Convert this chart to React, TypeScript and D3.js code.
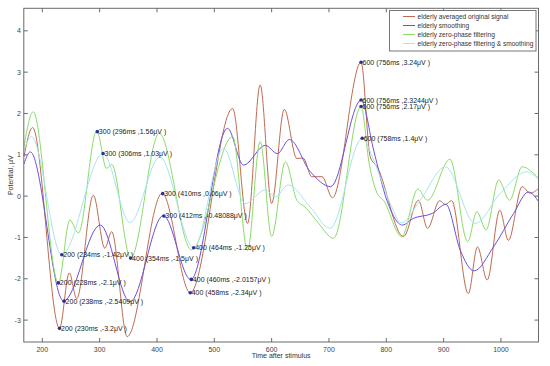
import React from "react";
import * as d3 from "d3";

const seriesNames = [
  "elderly averaged original signal",
  "elderly smoothing",
  "elderly zero-phase filtering",
  "elderly zero-phase filtering & smoothing",
];
const seriesColors = ["#bf6a52", "#6b50da", "#88dc66", "#a9e2f2"];

const originalSignal: [number, number][] = [
  [168, 0.95], [183, 1.66], [230, -3.2], [247, -1.86], [260, -2.48], [289, 0.02], [309, -1.26],
  [321, -0.86], [348, -3.4], [409, 0.07], [458, -2.34], [532, 2.12], [558, -0.66], [580, 2.69],
  [600, -0.18], [622, 2.1], [644, 0.91], [655, 0.92], [670, 0.47], [688, 0.47], [706, -0.04],
  [756, 3.24], [772, 0.95], [784, 0.71], [830, -0.98], [856, -0.1], [872, -0.78], [893, -0.11],
  [903, -0.2], [914, -0.11], [943, -2.36], [959, -1.23], [976, -2.03], [998, -0.34], [1013, -1.07],
  [1037, 0.23], [1051, 0.07], [1066, 0.19],
];
const smoothing: [number, number][] = [
  [168, 0.78], [179, 1.07], [237, -2.54], [301, -0.7], [353, -2.56], [411, -0.47], [459, -2.02],
  [523, 1.64], [551, 0.75], [589, 1.23], [610, 1.03], [631, 1.37], [667, 0.6], [703, 0.23],
  [756, 2.32], [778, 1.11], [801, -0.1], [828, -0.7], [847, -0.54], [880, -0.42], [904, -0.2],
  [929, -1.31], [953, -1.81], [987, -1.23], [1022, -0.42], [1048, 0.1], [1066, -0.14],
];
const zeroPhase: [number, number][] = [
  [168, 1.2], [184, 2.04], [228, -2.1], [248, -0.58], [263, -0.89], [295, 1.58], [312, 0.67],
  [321, 0.77], [354, -1.5], [404, 1.52], [460, -1.3], [532, 1.44], [558, -1.31], [580, 1.32],
  [600, -0.98], [624, 0.83], [644, -0.1], [658, -0.26], [682, -0.66], [708, -1.02], [756, 2.17],
  [770, 0.8], [784, 0.07], [795, -0.1], [827, -0.98], [855, 0.17], [872, -0.1], [911, 0.89],
  [942, -1.1], [958, -0.38], [974, -0.82], [996, 0.39], [1015, -0.1], [1037, 0.71], [1057, 0.55],
  [1066, 0.43],
];
const zeroPhaseSmoothing: [number, number][] = [
  [168, 1.11], [181, 1.44], [234, -1.42], [306, 1.03], [353, -0.64], [405, 0.95], [464, -1.25],
  [516, 1.15], [554, -0.18], [589, 0.15], [606, -0.02], [629, 0.27], [667, -0.26], [702, -0.78],
  [758, 1.4], [778, 0.87], [807, -0.18], [826, -0.65], [859, -0.1], [903, 0.71], [955, -0.66],
  [999, 0.07], [1045, 0.59], [1066, 0.39],
];
const allSeries = [originalSignal, smoothing, zeroPhase, zeroPhaseSmoothing];

// [label, time ms, value, value text]
const annotations: [string, number, number, string][] = [
  ["200", 230, -3.2, "-3.2"],
  ["200", 238, -2.5409, "-2.5409"],
  ["200", 228, -2.1, "-2.1"],
  ["200", 234, -1.42, "-1.42"],
  ["300", 296, 1.56, "1.56"],
  ["300", 306, 1.03, "1.03"],
  ["300", 410, 0.06, "0.06"],
  ["300", 412, -0.48088, "-0.48088"],
  ["400", 354, -1.5, "-1.5"],
  ["400", 464, -1.25, "-1.25"],
  ["400", 460, -2.0157, "-2.0157"],
  ["400", 458, -2.34, "-2.34"],
  ["600", 756, 3.24, "3.24"],
  ["600", 756, 2.3244, "2.3244"],
  ["600", 756, 2.17, "2.17"],
  ["600", 758, 1.4, "1.4"],
];

const xTicks = [200, 300, 400, 500, 600, 700, 800, 900, 1000];
const yTicks = [-3, -2, -1, 0, 1, 2, 3, 4];

const W = 550, H = 366;
const L = 23.8, R = 538.5, T = 8.3, B = 342;
const font = "'Liberation Sans', Arial, sans-serif";
const axisColor = "#6a6a6a";

export default function App() {
  const x = d3.scaleLinear().domain([167.7, 1065.5]).range([L, R]);
  const y = d3.scaleLinear().domain([-3.53, 4.545]).range([B, T]);
  const line = d3
    .line<[number, number]>()
    .x((d) => x(d[0]))
    .y((d) => y(d[1]))
    .curve(d3.curveMonotoneX);

  return (
    <svg
      width={W}
      height={H}
      style={{ position: "absolute", left: 0, top: 0, background: "#fff" }}
      fontFamily={font}
    >
      <defs>
        <clipPath id="plot">
          <rect x={L} y={T} width={R - L} height={B - T} />
        </clipPath>
      </defs>
      <rect x={0} y={0} width={W} height={H} fill="#fff" />
      <g clipPath="url(#plot)">
        {allSeries.map((s, i) => (
          <path key={i} d={line(s) || ""} fill="none" stroke={seriesColors[i]} strokeWidth={1} />
        ))}
      </g>
      {/* annotations */}
      {annotations.map(([lab, t, v, vt], i) => (
        <g key={i}>
          <circle cx={x(t)} cy={y(v)} r={1.8} fill="#2a2f9c" />
          <text x={x(t) + 1.5} y={y(v)} dy="0.35em" fontSize={7} fill="#222">
            {`${lab} (${t}ms ,${vt}μV )`}
          </text>
        </g>
      ))}
      {/* frame */}
      <rect x={L} y={T} width={R - L} height={B - T} fill="none" stroke={axisColor} strokeWidth={1} />
      {xTicks.map((t) => (
        <g key={t}>
          <line x1={x(t)} x2={x(t)} y1={B} y2={B - 4} stroke={axisColor} />
          <line x1={x(t)} x2={x(t)} y1={T} y2={T + 4} stroke={axisColor} />
          <text x={x(t)} y={B + 8} dy="0.35em" textAnchor="middle" fontSize={7} fill="#444">
            {t}
          </text>
        </g>
      ))}
      {yTicks.map((v) => (
        <g key={v}>
          <line x1={L} x2={L + 4} y1={y(v)} y2={y(v)} stroke={axisColor} />
          <line x1={R} x2={R - 4} y1={y(v)} y2={y(v)} stroke={axisColor} />
          <text x={L - 3} y={y(v)} dy="0.35em" textAnchor="end" fontSize={7} fill="#444">
            {v}
          </text>
        </g>
      ))}
      <text x={(L + R) / 2} y={358} textAnchor="middle" fontSize={7} fill="#333">
        Time after stimulus
      </text>
      <text
        transform={`translate(11,${(T + B) / 2}) rotate(-90)`}
        textAnchor="middle"
        dy="0.35em"
        fontSize={7}
        fill="#333"
      >
        Potential, μV
      </text>
      {/* legend */}
      <g>
        <rect x={389.5} y={10.5} width={146.5} height={40.5} fill="#fff" stroke="#777" strokeWidth={1} />
        {seriesNames.map((n, i) => (
          <g key={n}>
            <line x1={403} x2={415} y1={16.5 + i * 9} y2={16.5 + i * 9} stroke={seriesColors[i]} strokeWidth={1} />
            <text x={417.5} y={16.5 + i * 9} dy="0.35em" fontSize={6.6} fill="#333">
              {n}
            </text>
          </g>
        ))}
      </g>
    </svg>
  );
}
